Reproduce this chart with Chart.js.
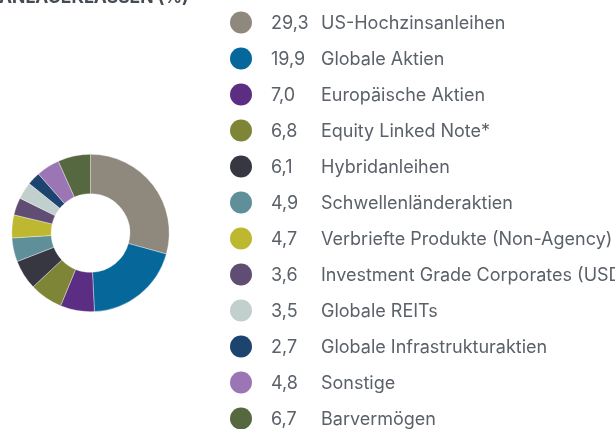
<!DOCTYPE html>
<html>
<head>
<meta charset="utf-8">
<script src="https://cdn.jsdelivr.net/npm/chart.js@4"></script>
<style>
  html, body { margin: 0; padding: 0; background: #fff; }
  #wrap { position: relative; width: 615px; height: 429px; overflow: hidden; }
</style>
</head>
<body>
<div id="wrap"><canvas id="allocChart" width="615" height="429"></canvas></div>
<script>
var title = "ANLAGEKLASSEN (%)";

var categories = [
  "US-Hochzinsanleihen",
  "Globale Aktien",
  "Europäische Aktien",
  "Equity Linked Note*",
  "Hybridanleihen",
  "Schwellenländeraktien",
  "Verbriefte Produkte (Non-Agency)",
  "Investment Grade Corporates (USD)",
  "Globale REITs",
  "Globale Infrastrukturaktien",
  "Sonstige",
  "Barvermögen"
];

var values = [29.3, 19.9, 7.0, 6.8, 6.1, 4.9, 4.7, 3.6, 3.5, 2.7, 4.8, 6.7];

var colors = [
  "#8f887c", "#05679a", "#5b2d83", "#7e8537", "#373742", "#5f8f99",
  "#bdb830", "#5f4d73", "#c1cfcd", "#1d446f", "#9c76b4", "#56683f"
];

function fmt(v) {
  return v.toFixed(1).replace(".", ",");
}

// legend + title drawn on the canvas, from the arrays above
var sideLegend = {
  id: 'sideLegend',
  afterDraw: function(chart) {
    var ctx = chart.ctx;
    ctx.save();
    ctx.fillStyle = "#444b52";
    ctx.font = "bold 17.5px Inter, sans-serif";
    ctx.textBaseline = "alphabetic";
    ctx.fillText(title, -1, 2.5);

    ctx.font = "18px Inter, sans-serif";
    ctx.textBaseline = "middle";
    for (var i = 0; i < categories.length; i++) {
      var y = 22.5 + i * 36;
      ctx.beginPath();
      ctx.arc(241, y, 11, 0, Math.PI * 2);
      ctx.fillStyle = colors[i];
      ctx.fill();
      ctx.fillStyle = "#5b6169";
      ctx.fillText(fmt(values[i]), 271, y + 1);
      ctx.fillText(categories[i], 321, y + 1);
    }
    ctx.restore();
  }
};

new Chart(document.getElementById("allocChart").getContext('2d'), {
  type: 'doughnut',
  data: {
    labels: categories,
    datasets: [{
      data: values,
      backgroundColor: colors,
      borderColor: "rgba(255,255,255,0.6)",
      borderWidth: 0.6
    }]
  },
  options: {
    responsive: false,
    animation: false,
    cutout: '50%',
    layout: { padding: { left: 11, right: 445, top: 154, bottom: 117 } },
    plugins: {
      legend: { display: false },
      tooltip: { enabled: false }
    }
  },
  plugins: [sideLegend]
});
</script>
</body>
</html>
